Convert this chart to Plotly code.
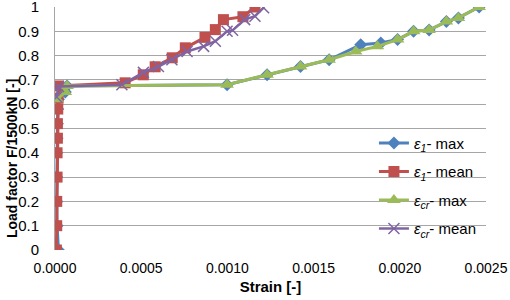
import plotly.graph_objects as go

# ε1 - max (blue diamonds)
e1max_x = [0.000020, 0.000012, 0.000010, 0.000010, 0.000010, 0.000012, 0.000014, 0.000016, 0.000020,
           0.000060, 0.000070, 0.000998, 0.00123, 0.001424, 0.00159, 0.001773, 0.00189, 0.001987,
           0.00208, 0.00217, 0.00227, 0.00234, 0.00246]
e1max_y = [0.0, 0.1, 0.2, 0.3, 0.4, 0.46, 0.52, 0.58, 0.62,
           0.65, 0.675, 0.68, 0.721, 0.755, 0.783, 0.845, 0.852, 0.866,
           0.90, 0.905, 0.94, 0.955, 1.0]

# ε1 - mean (red squares)
e1mean_x = [0.000008, 0.000010, 0.000010, 0.000012, 0.000012, 0.000014, 0.000014, 0.000016, 0.000018,
            0.000020, 0.000407, 0.000512, 0.000581, 0.00068, 0.000756, 0.00087, 0.00093, 0.000977,
            0.00109, 0.00116]
e1mean_y = [0.0, 0.1, 0.2, 0.3, 0.4, 0.46, 0.52, 0.58, 0.625,
            0.675, 0.688, 0.721, 0.754, 0.791, 0.832, 0.875, 0.907, 0.948,
            0.96, 1.0]

# εcr - max (green triangles)
ecrmax_x = [0.000012, 0.000060, 0.000070, 0.000998, 0.00123, 0.001424, 0.00159, 0.001744, 0.00187,
            0.001987, 0.00208, 0.00217, 0.00227, 0.00234, 0.00246]
ecrmax_y = [0.62, 0.65, 0.675, 0.68, 0.721, 0.755, 0.783, 0.817, 0.838,
            0.866, 0.90, 0.905, 0.94, 0.955, 1.0]

# εcr - mean (purple crosses)
ecrmean_x = [0.000010, 0.000020, 0.000388, 0.000513, 0.0006, 0.000678, 0.000766, 0.000862, 0.00093,
             0.000998, 0.00103, 0.0011, 0.00116, 0.00121]
ecrmean_y = [0.63, 0.673, 0.680, 0.731, 0.755, 0.783, 0.817, 0.838, 0.859,
             0.90, 0.904, 0.948, 0.962, 0.997]

names = ["<i>ε<sub>1</sub></i>- max", "<i>ε<sub>1</sub></i>- mean",
         "<i>ε<sub>cr</sub></i>- max", "<i>ε<sub>cr</sub></i>- mean"]

x_ticks = [0, 0.0005, 0.001, 0.0015, 0.002, 0.0025]
x_tick_labels = ["0.0000", "0.0005", "0.0010", "0.0015", "0.0020", "0.0025"]
y_ticks = [0, 0.1, 0.2, 0.3, 0.4, 0.5, 0.6, 0.7, 0.8, 0.9, 1]
y_tick_labels = ["0", "0.1", "0.2", "0.3", "0.4", "0.5", "0.6", "0.7", "0.8", "0.9", "1"]

fig = go.Figure()
fig.add_trace(go.Scatter(x=e1max_x, y=e1max_y, name=names[0], mode="lines+markers",
                         line=dict(color="#4F81BD", width=3),
                         marker=dict(symbol="diamond", size=10, color="#4F81BD"),
                         legendgroup="a"))
fig.add_trace(go.Scatter(x=e1mean_x, y=e1mean_y, name=names[1], mode="lines+markers",
                         line=dict(color="#C0504D", width=3),
                         marker=dict(symbol="square", size=11, color="#C0504D"),
                         legendgroup="b"))
fig.add_trace(go.Scatter(x=ecrmax_x, y=ecrmax_y, name=names[2], mode="lines+markers",
                         line=dict(color="#9BBB59", width=3),
                         marker=dict(symbol="triangle-up", size=12, color="#9BBB59"),
                         legendgroup="c"))
fig.add_trace(go.Scatter(x=ecrmean_x, y=ecrmean_y, name=names[3], mode="lines+markers",
                         line=dict(color="#8064A2", width=2.5),
                         marker=dict(symbol="x-thin", size=11, color="#8064A2",
                                     line=dict(color="#8064A2", width=1.5)),
                         legendgroup="d"))

fig.update_layout(
    width=510, height=300,
    margin=dict(l=55, r=24, t=7, b=50),
    paper_bgcolor="white", plot_bgcolor="white",
    font=dict(family="Liberation Sans, Arial, sans-serif", size=14, color="black"),
    showlegend=True,
    legend=dict(x=0.74, y=0.507, xanchor="left", yanchor="top",
                bgcolor="rgba(0,0,0,0)", font=dict(size=15),
                tracegroupgap=6, traceorder="grouped"),
    xaxis=dict(range=[0, 0.0025], tickvals=x_ticks, ticktext=x_tick_labels,
               showgrid=False, zeroline=False, showline=False, ticks="",
               ticklabelstandoff=8, ticklabeloverflow="allow", automargin=False,
               title=dict(text="<b>Strain [-]</b>", font=dict(size=15), standoff=6)),
    yaxis=dict(range=[0, 1], tickvals=y_ticks, ticktext=y_tick_labels,
               showgrid=True, gridcolor="#A6A6A6", gridwidth=1,
               zeroline=False, showline=True, linecolor="#A6A6A6", linewidth=1, ticks="",
               tickfont=dict(size=15), ticklabelstandoff=12, ticklabeloverflow="allow",
               automargin=False),
    annotations=[dict(text="<b>Load factor F/1500kN [-]</b>", textangle=-90,
                      xref="paper", yref="paper", x=0, y=0.374,
                      xanchor="center", yanchor="middle", xshift=-43,
                      showarrow=False, font=dict(size=14))],
)

fig.write_html("out.html",
               config={"displayModeBar": False},
               post_script="document.body.style.margin='0';document.body.style.overflow='hidden';")
